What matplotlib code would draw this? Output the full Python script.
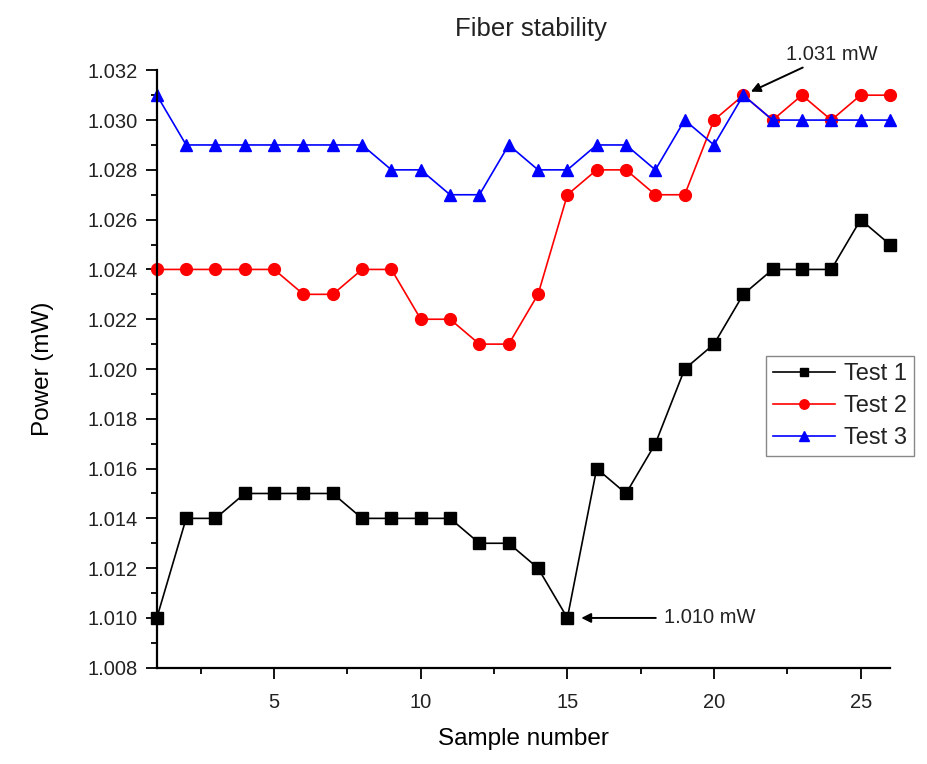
import numpy as np
import matplotlib.pyplot as plt
from matplotlib.ticker import MultipleLocator

samples = list(range(1, 27))
test1 = [1.010, 1.014, 1.014, 1.015, 1.015, 1.015, 1.015, 1.014, 1.014, 1.014,
         1.014, 1.013, 1.013, 1.012, 1.010, 1.016, 1.015, 1.017, 1.020, 1.021,
         1.023, 1.024, 1.024, 1.024, 1.026, 1.025]
test2 = [1.024, 1.024, 1.024, 1.024, 1.024, 1.023, 1.023, 1.024, 1.024, 1.022,
         1.022, 1.021, 1.021, 1.023, 1.027, 1.028, 1.028, 1.027, 1.027, 1.030,
         1.031, 1.030, 1.031, 1.030, 1.031, 1.031]
test3 = [1.031, 1.029, 1.029, 1.029, 1.029, 1.029, 1.029, 1.029, 1.028, 1.028,
         1.027, 1.027, 1.029, 1.028, 1.028, 1.029, 1.029, 1.028, 1.030, 1.029,
         1.031, 1.030, 1.030, 1.030, 1.030, 1.030]

plt.rcParams['font.family'] = ['Liberation Sans', 'DejaVu Sans']
plt.rcParams['text.color'] = '#222222'

fig = plt.figure(figsize=(9.28, 7.64), dpi=100)
ax = fig.add_axes([0.169, 0.126, 0.79, 0.782])

ax.plot(samples, test1, color="black", marker="s", markersize=8, lw=1.2, label="Test 1", clip_on=False)
ax.plot(samples, test2, color="red", marker="o", markersize=8.5, lw=1.2, label="Test 2", clip_on=False)
ax.plot(samples, test3, color="blue", marker="^", markersize=9, lw=1.2, label="Test 3", clip_on=False)

ax.set_xlim(1, 26)
ax.set_ylim(1.008, 1.032)
ax.xaxis.set_major_locator(MultipleLocator(5))
ax.xaxis.set_minor_locator(MultipleLocator(2.5))
ax.yaxis.set_major_locator(MultipleLocator(0.002))
ax.yaxis.set_minor_locator(MultipleLocator(0.001))
ax.yaxis.set_major_formatter(plt.FormatStrFormatter("%.3f"))
ax.tick_params(which="both", direction="out", width=1.3, labelcolor="#222222")
ax.tick_params(which="major", length=8, labelsize=14.5, pad=6)
ax.tick_params(axis="x", which="major", pad=10)
ax.tick_params(which="minor", length=4)
for s in ["top", "right"]:
    ax.spines[s].set_visible(False)
for s in ["left", "bottom"]:
    ax.spines[s].set_linewidth(1.6)

ax.set_xlabel("Sample number", fontsize=17.5, labelpad=12)
ax.set_ylabel("Power (mW)", fontsize=17.5, labelpad=24)
fig.suptitle("Fiber stability", fontsize=18.5, x=0.572, y=0.978)

ax.annotate("1.031 mW", xy=(21, 1.031), xytext=(22.45, 1.03265), fontsize=14.5,
            annotation_clip=False, va="center",
            arrowprops=dict(arrowstyle="-|>", color="black", lw=1.4, shrinkA=2, shrinkB=6,
                            mutation_scale=14))
ax.annotate("1.010 mW", xy=(15, 1.010), xytext=(18.3, 1.010), fontsize=14.5, va="center",
            arrowprops=dict(arrowstyle="-|>", color="black", lw=1.4, shrinkA=4, shrinkB=10,
                            mutation_scale=14))

fig.legend(loc="upper right", bbox_to_anchor=(0.985, 0.534), fontsize=17,
           fancybox=False, edgecolor="#888888", framealpha=1, handlelength=2.6,
           borderpad=0.3, labelspacing=0.42, handletextpad=0.4, markerscale=0.8,
           borderaxespad=0)

fig.savefig("out.png", dpi=100)
